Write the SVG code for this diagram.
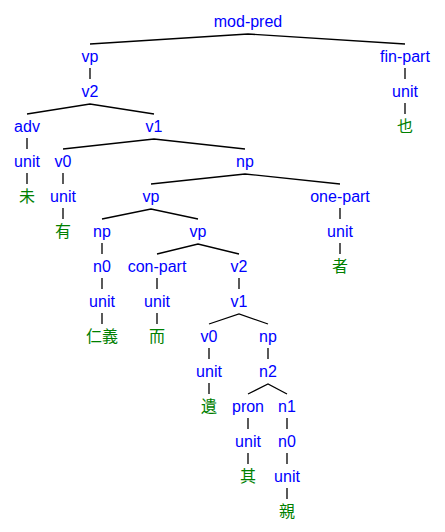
<svg xmlns="http://www.w3.org/2000/svg" width="445" height="532" viewBox="0 0 445 532">
<style>
text{font-family:"Liberation Sans",Arial,sans-serif;font-size:16px;text-anchor:middle}
.l{fill:#0000ff}
.w{fill:#008000;font-family:"Noto Sans CJK SC","Noto Sans CJK JP",sans-serif;font-size:16px}
#connectors polyline,#connectors line{fill:none;stroke:#000;stroke-width:1.3}
</style>
<rect width="445" height="532" fill="#fff"/>
<g id="connectors">
<polyline points="90,44 248,34 405,44"/>
<line x1="90" y1="68" x2="90" y2="79"/>
<line x1="405" y1="68" x2="405" y2="79"/>
<polyline points="27,114 90,104 154,114"/>
<line x1="405" y1="103" x2="405" y2="114"/>
<line x1="27" y1="138" x2="27" y2="149"/>
<polyline points="63,149 154,139 245,149"/>
<line x1="27" y1="173" x2="27" y2="184"/>
<line x1="63" y1="173" x2="63" y2="184"/>
<polyline points="151,184 245,174 340,184"/>
<line x1="63" y1="208" x2="63" y2="219"/>
<polyline points="102,219 151,209 198,219"/>
<line x1="340" y1="208" x2="340" y2="219"/>
<line x1="102" y1="243" x2="102" y2="254"/>
<polyline points="157,254 198,244 239,254"/>
<line x1="340" y1="243" x2="340" y2="254"/>
<line x1="102" y1="278" x2="102" y2="289"/>
<line x1="157" y1="278" x2="157" y2="289"/>
<line x1="239" y1="278" x2="239" y2="289"/>
<line x1="102" y1="313" x2="102" y2="324"/>
<line x1="157" y1="313" x2="157" y2="324"/>
<polyline points="209,324 239,314 268,324"/>
<line x1="209" y1="348" x2="209" y2="359"/>
<line x1="268" y1="348" x2="268" y2="359"/>
<line x1="209" y1="383" x2="209" y2="394"/>
<polyline points="248,394 268,384 287,394"/>
<line x1="248" y1="418" x2="248" y2="429"/>
<line x1="287" y1="418" x2="287" y2="429"/>
<line x1="248" y1="453" x2="248" y2="464"/>
<line x1="287" y1="453" x2="287" y2="464"/>
<line x1="287" y1="488" x2="287" y2="499"/>
</g>
<g id="n-modpred"><text class="l" x="248" y="27">mod-pred</text></g>
<g id="n-vp1"><text class="l" x="90" y="62">vp</text></g>
<g id="n-finpart"><text class="l" x="405" y="62">fin-part</text></g>
<g id="n-v2a"><text class="l" x="90" y="97">v2</text></g>
<g id="n-unit-fin"><text class="l" x="405" y="97">unit</text></g>
<g id="n-adv"><text class="l" x="27" y="132">adv</text></g>
<g id="n-v1a"><text class="l" x="154" y="132">v1</text></g>
<g id="n-ye"><text class="w" x="405" y="132">也</text></g>
<g id="n-unit-adv"><text class="l" x="27" y="167">unit</text></g>
<g id="n-v0a"><text class="l" x="63" y="167">v0</text></g>
<g id="n-np1"><text class="l" x="245" y="167">np</text></g>
<g id="n-wei"><text class="w" x="27" y="202">未</text></g>
<g id="n-unit-v0a"><text class="l" x="63" y="202">unit</text></g>
<g id="n-vp2"><text class="l" x="151" y="202">vp</text></g>
<g id="n-onepart"><text class="l" x="340" y="202">one-part</text></g>
<g id="n-you"><text class="w" x="63" y="237">有</text></g>
<g id="n-np2"><text class="l" x="102" y="237">np</text></g>
<g id="n-vp3"><text class="l" x="198" y="237">vp</text></g>
<g id="n-unit-one"><text class="l" x="340" y="237">unit</text></g>
<g id="n-n0a"><text class="l" x="102" y="272">n0</text></g>
<g id="n-conpart"><text class="l" x="157" y="272">con-part</text></g>
<g id="n-v2b"><text class="l" x="239" y="272">v2</text></g>
<g id="n-zhe"><text class="w" x="340" y="272">者</text></g>
<g id="n-unit-n0a"><text class="l" x="102" y="307">unit</text></g>
<g id="n-unit-con"><text class="l" x="157" y="307">unit</text></g>
<g id="n-v1b"><text class="l" x="239" y="307">v1</text></g>
<g id="n-renyi"><text class="w" x="102" y="342">仁義</text></g>
<g id="n-er"><text class="w" x="157" y="342">而</text></g>
<g id="n-v0b"><text class="l" x="209" y="342">v0</text></g>
<g id="n-np3"><text class="l" x="268" y="342">np</text></g>
<g id="n-unit-v0b"><text class="l" x="209" y="377">unit</text></g>
<g id="n-n2"><text class="l" x="268" y="377">n2</text></g>
<g id="n-yi"><text class="w" x="209" y="412">遺</text></g>
<g id="n-pron"><text class="l" x="248" y="412">pron</text></g>
<g id="n-n1"><text class="l" x="287" y="412">n1</text></g>
<g id="n-unit-pron"><text class="l" x="248" y="447">unit</text></g>
<g id="n-n0b"><text class="l" x="287" y="447">n0</text></g>
<g id="n-qi"><text class="w" x="248" y="482">其</text></g>
<g id="n-unit-n0b"><text class="l" x="287" y="482">unit</text></g>
<g id="n-qin"><text class="w" x="287" y="517">親</text></g>
</svg>
